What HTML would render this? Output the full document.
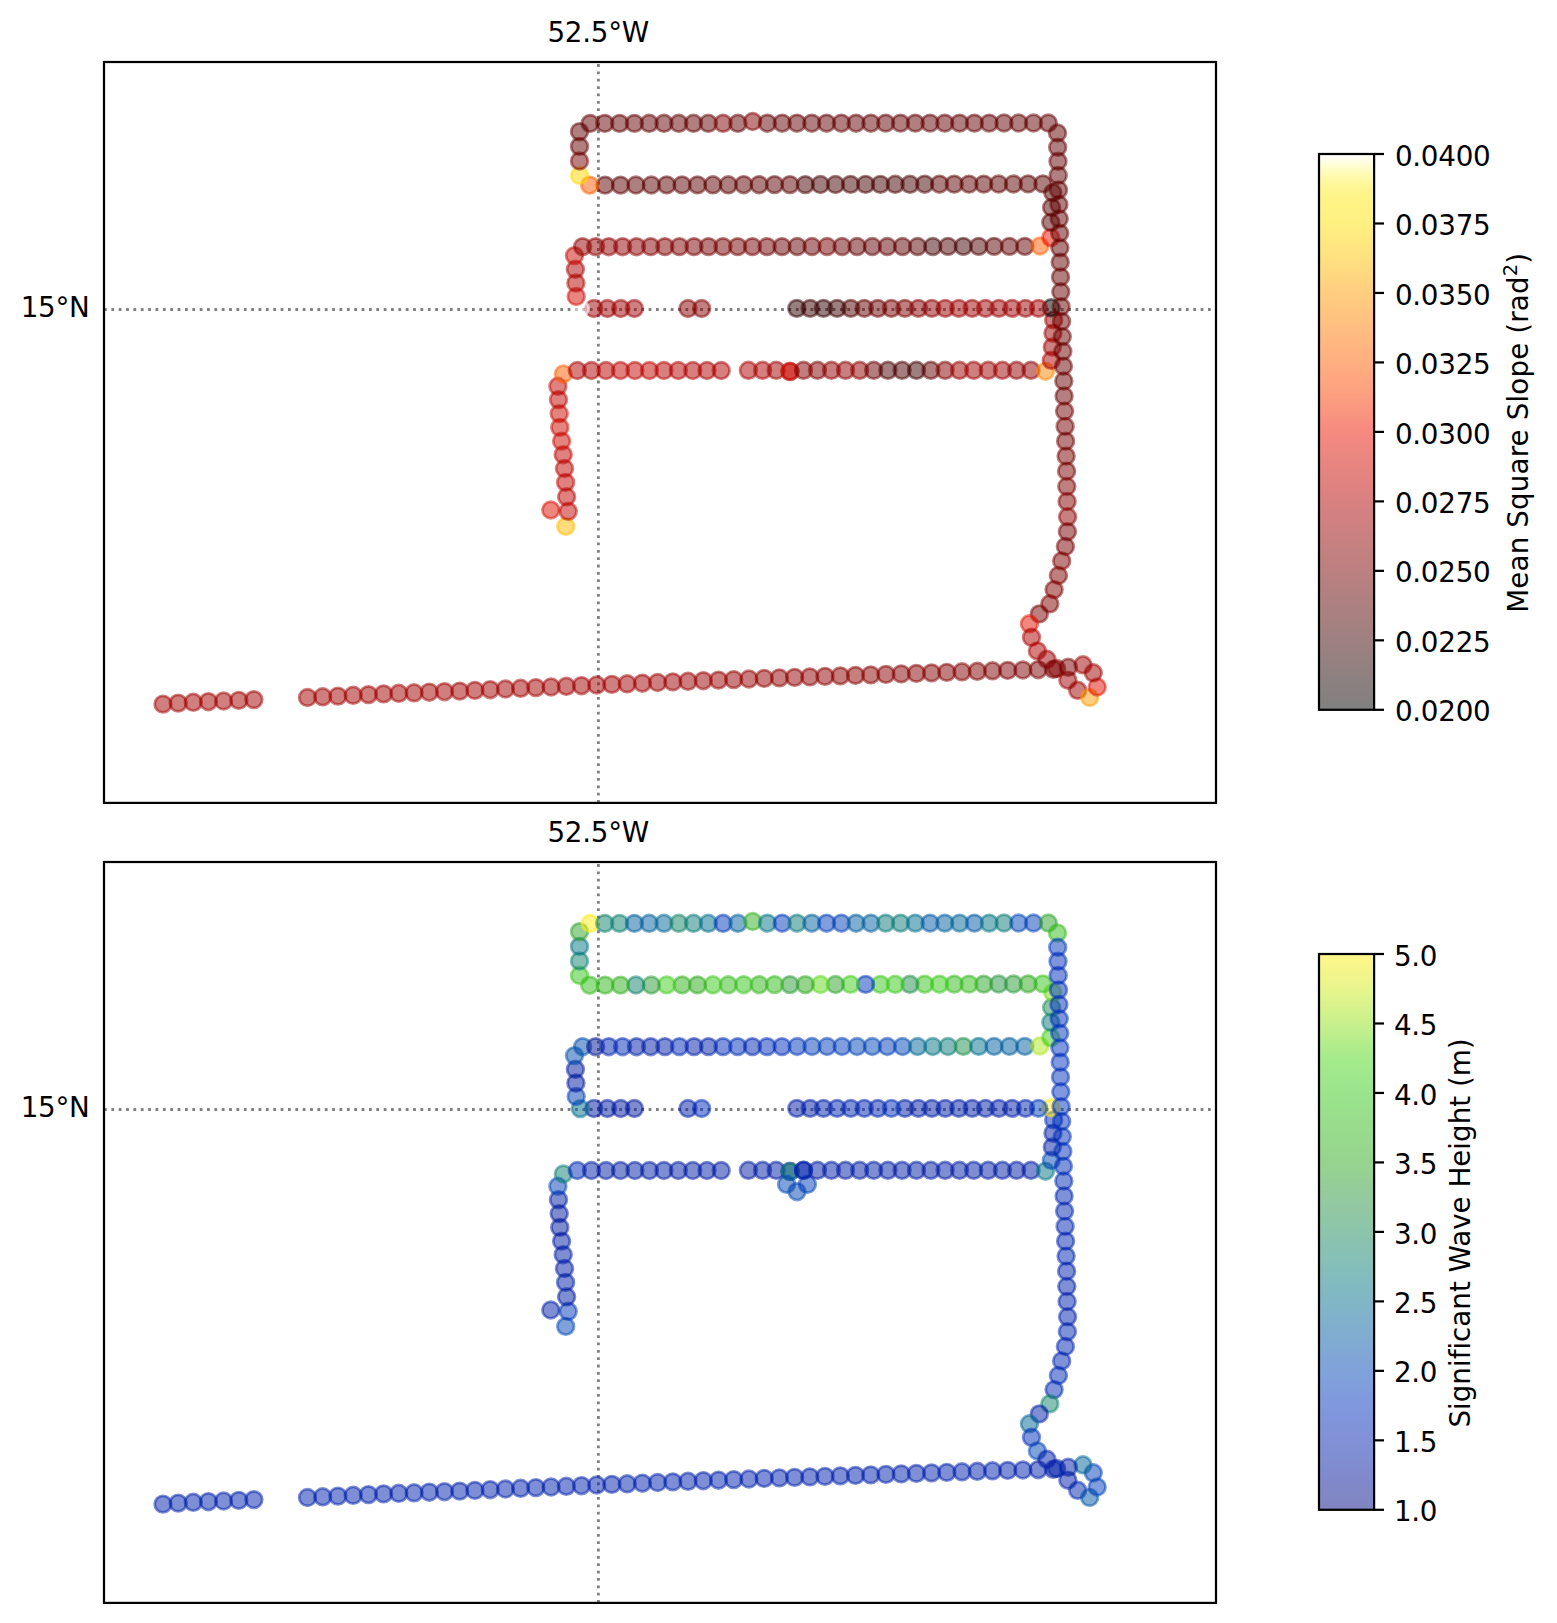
<!DOCTYPE html><html><head><meta charset="utf-8"><title>Mean Square Slope and Significant Wave Height</title>
<style>html,body{margin:0;padding:0;background:#fff}svg{display:block}text{font-family:"DejaVu Sans","Liberation Sans",sans-serif;font-size:27.78px;fill:#000;letter-spacing:-0.27px}</style></head><body>
<svg width="1557" height="1623" viewBox="0 0 1557 1623">
<defs>
<circle id="m" r="8.33" fill-opacity=".5" stroke-width="2.78" stroke-opacity=".5"/>
<linearGradient id="gf" x1="0" y1="1" x2="0" y2="0"><stop offset="0.0000" stop-color="#808080"/><stop offset="0.0156" stop-color="#848080"/><stop offset="0.0312" stop-color="#888080"/><stop offset="0.0469" stop-color="#8b8080"/><stop offset="0.0625" stop-color="#8f8080"/><stop offset="0.0781" stop-color="#938080"/><stop offset="0.0938" stop-color="#968080"/><stop offset="0.1094" stop-color="#9a8080"/><stop offset="0.1250" stop-color="#9e8080"/><stop offset="0.1406" stop-color="#a28080"/><stop offset="0.1562" stop-color="#a68080"/><stop offset="0.1719" stop-color="#aa8080"/><stop offset="0.1875" stop-color="#ad8080"/><stop offset="0.2031" stop-color="#b08080"/><stop offset="0.2188" stop-color="#b48080"/><stop offset="0.2344" stop-color="#b88080"/><stop offset="0.2500" stop-color="#bc8080"/><stop offset="0.2656" stop-color="#bf8080"/><stop offset="0.2812" stop-color="#c28080"/><stop offset="0.2969" stop-color="#c68080"/><stop offset="0.3125" stop-color="#ca8080"/><stop offset="0.3281" stop-color="#ce8080"/><stop offset="0.3438" stop-color="#d28080"/><stop offset="0.3594" stop-color="#d58080"/><stop offset="0.3750" stop-color="#d88080"/><stop offset="0.3906" stop-color="#dc8080"/><stop offset="0.4062" stop-color="#e08280"/><stop offset="0.4219" stop-color="#e38480"/><stop offset="0.4375" stop-color="#e68480"/><stop offset="0.4531" stop-color="#ea8680"/><stop offset="0.4688" stop-color="#ee8780"/><stop offset="0.4844" stop-color="#f28880"/><stop offset="0.5000" stop-color="#f58a80"/><stop offset="0.5156" stop-color="#f78e80"/><stop offset="0.5312" stop-color="#f89480"/><stop offset="0.5469" stop-color="#fa9880"/><stop offset="0.5625" stop-color="#fc9e80"/><stop offset="0.5781" stop-color="#fda280"/><stop offset="0.5938" stop-color="#fea680"/><stop offset="0.6094" stop-color="#feaa80"/><stop offset="0.6250" stop-color="#ffaf80"/><stop offset="0.6406" stop-color="#ffb280"/><stop offset="0.6562" stop-color="#ffb680"/><stop offset="0.6719" stop-color="#ffba80"/><stop offset="0.6875" stop-color="#ffbe80"/><stop offset="0.7031" stop-color="#ffc280"/><stop offset="0.7188" stop-color="#ffc680"/><stop offset="0.7344" stop-color="#ffca80"/><stop offset="0.7500" stop-color="#ffcd80"/><stop offset="0.7656" stop-color="#ffd280"/><stop offset="0.7812" stop-color="#ffd780"/><stop offset="0.7969" stop-color="#ffdc80"/><stop offset="0.8125" stop-color="#ffe180"/><stop offset="0.8281" stop-color="#ffe480"/><stop offset="0.8438" stop-color="#ffe880"/><stop offset="0.8594" stop-color="#ffec82"/><stop offset="0.8750" stop-color="#fff082"/><stop offset="0.8906" stop-color="#fff284"/><stop offset="0.9062" stop-color="#fff386"/><stop offset="0.9219" stop-color="#fff488"/><stop offset="0.9375" stop-color="#fff692"/><stop offset="0.9531" stop-color="#fff9a4"/><stop offset="0.9688" stop-color="#fffbbe"/><stop offset="0.9844" stop-color="#fffddf"/><stop offset="1.0000" stop-color="#ffffff"/></linearGradient>
<linearGradient id="gb" x1="0" y1="1" x2="0" y2="0"><stop offset="0.0000" stop-color="#8085c0"/><stop offset="0.0156" stop-color="#8086c4"/><stop offset="0.0312" stop-color="#8088c6"/><stop offset="0.0469" stop-color="#8088ca"/><stop offset="0.0625" stop-color="#808acd"/><stop offset="0.0781" stop-color="#808cd0"/><stop offset="0.0938" stop-color="#808ed2"/><stop offset="0.1094" stop-color="#8090d4"/><stop offset="0.1250" stop-color="#8091d7"/><stop offset="0.1406" stop-color="#8092d8"/><stop offset="0.1562" stop-color="#8094da"/><stop offset="0.1719" stop-color="#8096dc"/><stop offset="0.1875" stop-color="#8098de"/><stop offset="0.2031" stop-color="#809add"/><stop offset="0.2188" stop-color="#809ddc"/><stop offset="0.2344" stop-color="#80a0db"/><stop offset="0.2500" stop-color="#80a2da"/><stop offset="0.2656" stop-color="#80a4d8"/><stop offset="0.2812" stop-color="#80a7d5"/><stop offset="0.2969" stop-color="#80aad2"/><stop offset="0.3125" stop-color="#80acd0"/><stop offset="0.3281" stop-color="#80aece"/><stop offset="0.3438" stop-color="#80b1cb"/><stop offset="0.3594" stop-color="#80b4c8"/><stop offset="0.3750" stop-color="#80b6c6"/><stop offset="0.3906" stop-color="#80b8c2"/><stop offset="0.4062" stop-color="#82bac0"/><stop offset="0.4219" stop-color="#83bcbc"/><stop offset="0.4375" stop-color="#84beb9"/><stop offset="0.4531" stop-color="#86c0b6"/><stop offset="0.4688" stop-color="#88c1b2"/><stop offset="0.4844" stop-color="#8ac2b0"/><stop offset="0.5000" stop-color="#8cc4ac"/><stop offset="0.5156" stop-color="#8ec6a8"/><stop offset="0.5312" stop-color="#90c7a4"/><stop offset="0.5469" stop-color="#92c8a1"/><stop offset="0.5625" stop-color="#94ca9e"/><stop offset="0.5781" stop-color="#94cc9a"/><stop offset="0.5938" stop-color="#95cf96"/><stop offset="0.6094" stop-color="#96d292"/><stop offset="0.6250" stop-color="#96d48e"/><stop offset="0.6406" stop-color="#96d68e"/><stop offset="0.6562" stop-color="#97d88d"/><stop offset="0.6719" stop-color="#98da8c"/><stop offset="0.6875" stop-color="#98dc8c"/><stop offset="0.7031" stop-color="#98de8c"/><stop offset="0.7188" stop-color="#9ae08c"/><stop offset="0.7344" stop-color="#9ae28c"/><stop offset="0.7500" stop-color="#9be48c"/><stop offset="0.7656" stop-color="#9ee68c"/><stop offset="0.7812" stop-color="#a0e88c"/><stop offset="0.7969" stop-color="#a2ea8c"/><stop offset="0.8125" stop-color="#a5eb8c"/><stop offset="0.8281" stop-color="#aeec8c"/><stop offset="0.8438" stop-color="#b6ee8c"/><stop offset="0.8594" stop-color="#c0ee8c"/><stop offset="0.8750" stop-color="#c8f08c"/><stop offset="0.8906" stop-color="#d0f28c"/><stop offset="0.9062" stop-color="#d8f28c"/><stop offset="0.9219" stop-color="#e0f48c"/><stop offset="0.9375" stop-color="#e8f58c"/><stop offset="0.9531" stop-color="#eef58c"/><stop offset="0.9688" stop-color="#f4f58b"/><stop offset="0.9844" stop-color="#faf58a"/><stop offset="1.0000" stop-color="#fff58a"/></linearGradient>
</defs>
<rect width="1557" height="1623" fill="#fff"/>
<g stroke="#808080" stroke-width="2.78" stroke-dasharray="2.78 4.58" fill="none"><path d="M104 309.5H1216" stroke-dashoffset="0"/><path d="M598.4 802.9V62"/></g><g><use href="#m" x="565.7" y="526.4" fill="#ffbb00" stroke="#ffbb00"/><use href="#m" x="550.8" y="510.0" fill="#d90e00" stroke="#d90e00"/><use href="#m" x="568.2" y="511.3" fill="#bd0400" stroke="#bd0400"/><use href="#m" x="566.6" y="496.8" fill="#bd0400" stroke="#bd0400"/><use href="#m" x="565.6" y="482.4" fill="#bd0400" stroke="#bd0400"/><use href="#m" x="564.5" y="468.5" fill="#bd0400" stroke="#bd0400"/><use href="#m" x="563.2" y="454.7" fill="#bd0400" stroke="#bd0400"/><use href="#m" x="561.6" y="441.1" fill="#cb0900" stroke="#cb0900"/><use href="#m" x="559.8" y="427.4" fill="#cb0900" stroke="#cb0900"/><use href="#m" x="559.2" y="413.6" fill="#cb0900" stroke="#cb0900"/><use href="#m" x="558.5" y="399.7" fill="#bd0400" stroke="#bd0400"/><use href="#m" x="557.9" y="386.3" fill="#bd0400" stroke="#bd0400"/><use href="#m" x="563.3" y="374.0" fill="#ff5c00" stroke="#ff5c00"/><use href="#m" x="577.3" y="370.5" fill="#ab0000" stroke="#ab0000"/><use href="#m" x="591.5" y="370.5" fill="#ab0000" stroke="#ab0000"/><use href="#m" x="606.0" y="370.5" fill="#b40100" stroke="#b40100"/><use href="#m" x="620.5" y="370.5" fill="#bd0400" stroke="#bd0400"/><use href="#m" x="634.9" y="370.5" fill="#bd0400" stroke="#bd0400"/><use href="#m" x="649.4" y="370.5" fill="#bd0400" stroke="#bd0400"/><use href="#m" x="663.9" y="370.5" fill="#b40100" stroke="#b40100"/><use href="#m" x="678.3" y="370.5" fill="#b40100" stroke="#b40100"/><use href="#m" x="692.8" y="370.5" fill="#b00000" stroke="#b00000"/><use href="#m" x="707.0" y="370.5" fill="#ab0000" stroke="#ab0000"/><use href="#m" x="721.2" y="370.5" fill="#ab0000" stroke="#ab0000"/><use href="#m" x="748.4" y="370.3" fill="#ab0000" stroke="#ab0000"/><use href="#m" x="762.6" y="370.3" fill="#ab0000" stroke="#ab0000"/><use href="#m" x="776.2" y="370.3" fill="#9d0000" stroke="#9d0000"/><use href="#m" x="790.0" y="371.3" fill="#c70700" stroke="#c70700"/><use href="#m" x="790.0" y="371.6" fill="#c70700" stroke="#c70700"/><use href="#m" x="803.5" y="370.3" fill="#810000" stroke="#810000"/><use href="#m" x="817.5" y="370.3" fill="#810000" stroke="#810000"/><use href="#m" x="831.5" y="370.3" fill="#8f0000" stroke="#8f0000"/><use href="#m" x="845.5" y="370.3" fill="#8f0000" stroke="#8f0000"/><use href="#m" x="859.7" y="370.3" fill="#8f0000" stroke="#8f0000"/><use href="#m" x="873.7" y="370.3" fill="#6a0000" stroke="#6a0000"/><use href="#m" x="887.9" y="370.3" fill="#4a0000" stroke="#4a0000"/><use href="#m" x="902.1" y="370.3" fill="#4a0000" stroke="#4a0000"/><use href="#m" x="916.5" y="370.3" fill="#3c0000" stroke="#3c0000"/><use href="#m" x="930.9" y="370.3" fill="#610000" stroke="#610000"/><use href="#m" x="945.1" y="370.3" fill="#810000" stroke="#810000"/><use href="#m" x="959.5" y="370.3" fill="#9d0000" stroke="#9d0000"/><use href="#m" x="973.7" y="370.3" fill="#9d0000" stroke="#9d0000"/><use href="#m" x="988.2" y="370.3" fill="#9d0000" stroke="#9d0000"/><use href="#m" x="1002.4" y="370.3" fill="#9d0000" stroke="#9d0000"/><use href="#m" x="1016.6" y="370.3" fill="#8f0000" stroke="#8f0000"/><use href="#m" x="1031.0" y="370.3" fill="#8f0000" stroke="#8f0000"/><use href="#m" x="1045.4" y="371.2" fill="#ff8300" stroke="#ff8300"/><use href="#m" x="1051.3" y="360.3" fill="#ab0000" stroke="#ab0000"/><use href="#m" x="1052.3" y="347.0" fill="#a20000" stroke="#a20000"/><use href="#m" x="1053.0" y="333.2" fill="#9d0000" stroke="#9d0000"/><use href="#m" x="1053.7" y="319.9" fill="#9d0000" stroke="#9d0000"/><use href="#m" x="1051.2" y="307.8" fill="#000000" stroke="#000000"/><use href="#m" x="1038.5" y="308.4" fill="#a60000" stroke="#a60000"/><use href="#m" x="1025.5" y="308.4" fill="#9d0000" stroke="#9d0000"/><use href="#m" x="1012.1" y="308.4" fill="#9d0000" stroke="#9d0000"/><use href="#m" x="998.9" y="308.4" fill="#9d0000" stroke="#9d0000"/><use href="#m" x="985.5" y="308.4" fill="#9d0000" stroke="#9d0000"/><use href="#m" x="972.2" y="308.4" fill="#9d0000" stroke="#9d0000"/><use href="#m" x="958.8" y="308.4" fill="#9d0000" stroke="#9d0000"/><use href="#m" x="945.3" y="308.4" fill="#980000" stroke="#980000"/><use href="#m" x="931.9" y="308.4" fill="#8f0000" stroke="#8f0000"/><use href="#m" x="918.4" y="308.4" fill="#860000" stroke="#860000"/><use href="#m" x="904.9" y="308.4" fill="#810000" stroke="#810000"/><use href="#m" x="891.4" y="308.4" fill="#780000" stroke="#780000"/><use href="#m" x="877.8" y="308.4" fill="#6a0000" stroke="#6a0000"/><use href="#m" x="864.3" y="308.4" fill="#610000" stroke="#610000"/><use href="#m" x="850.8" y="308.4" fill="#530000" stroke="#530000"/><use href="#m" x="837.1" y="308.4" fill="#3c0000" stroke="#3c0000"/><use href="#m" x="823.5" y="308.4" fill="#320000" stroke="#320000"/><use href="#m" x="810.2" y="308.4" fill="#3c0000" stroke="#3c0000"/><use href="#m" x="796.8" y="308.4" fill="#320000" stroke="#320000"/><use href="#m" x="701.7" y="308.5" fill="#860000" stroke="#860000"/><use href="#m" x="688.0" y="308.5" fill="#860000" stroke="#860000"/><use href="#m" x="634.4" y="308.5" fill="#9d0000" stroke="#9d0000"/><use href="#m" x="620.8" y="308.5" fill="#9d0000" stroke="#9d0000"/><use href="#m" x="607.4" y="308.5" fill="#9d0000" stroke="#9d0000"/><use href="#m" x="593.8" y="308.5" fill="#9d0000" stroke="#9d0000"/><use href="#m" x="580.3" y="308.6" fill="#ffffff" stroke="#ffffff"/><use href="#m" x="576.2" y="296.5" fill="#d40c00" stroke="#d40c00"/><use href="#m" x="575.9" y="283.0" fill="#b40100" stroke="#b40100"/><use href="#m" x="575.4" y="269.3" fill="#ab0000" stroke="#ab0000"/><use href="#m" x="574.5" y="255.6" fill="#c70700" stroke="#c70700"/><use href="#m" x="582.6" y="246.7" fill="#8f0000" stroke="#8f0000"/><use href="#m" x="595.6" y="246.7" fill="#8f0000" stroke="#8f0000"/><use href="#m" x="608.8" y="246.7" fill="#8f0000" stroke="#8f0000"/><use href="#m" x="622.6" y="246.7" fill="#8f0000" stroke="#8f0000"/><use href="#m" x="636.5" y="246.7" fill="#8b0000" stroke="#8b0000"/><use href="#m" x="650.7" y="246.6" fill="#860000" stroke="#860000"/><use href="#m" x="664.9" y="246.6" fill="#810000" stroke="#810000"/><use href="#m" x="679.4" y="246.6" fill="#7d0000" stroke="#7d0000"/><use href="#m" x="694.0" y="246.6" fill="#780000" stroke="#780000"/><use href="#m" x="708.5" y="246.6" fill="#730000" stroke="#730000"/><use href="#m" x="723.0" y="246.6" fill="#730000" stroke="#730000"/><use href="#m" x="737.7" y="246.6" fill="#730000" stroke="#730000"/><use href="#m" x="752.4" y="246.6" fill="#730000" stroke="#730000"/><use href="#m" x="767.1" y="246.6" fill="#6f0000" stroke="#6f0000"/><use href="#m" x="782.0" y="246.6" fill="#6a0000" stroke="#6a0000"/><use href="#m" x="797.2" y="246.5" fill="#610000" stroke="#610000"/><use href="#m" x="812.0" y="246.5" fill="#6a0000" stroke="#6a0000"/><use href="#m" x="827.1" y="246.5" fill="#730000" stroke="#730000"/><use href="#m" x="842.1" y="246.5" fill="#6a0000" stroke="#6a0000"/><use href="#m" x="857.1" y="246.5" fill="#610000" stroke="#610000"/><use href="#m" x="872.3" y="246.5" fill="#610000" stroke="#610000"/><use href="#m" x="887.3" y="246.5" fill="#610000" stroke="#610000"/><use href="#m" x="902.5" y="246.5" fill="#5c0000" stroke="#5c0000"/><use href="#m" x="917.6" y="246.5" fill="#530000" stroke="#530000"/><use href="#m" x="932.8" y="246.5" fill="#400000" stroke="#400000"/><use href="#m" x="948.0" y="246.4" fill="#4e0000" stroke="#4e0000"/><use href="#m" x="963.3" y="246.4" fill="#400000" stroke="#400000"/><use href="#m" x="978.7" y="246.4" fill="#4e0000" stroke="#4e0000"/><use href="#m" x="994.1" y="246.4" fill="#580000" stroke="#580000"/><use href="#m" x="1009.4" y="246.4" fill="#610000" stroke="#610000"/><use href="#m" x="1024.8" y="246.4" fill="#610000" stroke="#610000"/><use href="#m" x="1039.9" y="246.0" fill="#ff5c00" stroke="#ff5c00"/><use href="#m" x="1050.8" y="237.6" fill="#eb1400" stroke="#eb1400"/><use href="#m" x="1050.8" y="222.3" fill="#580000" stroke="#580000"/><use href="#m" x="1051.6" y="207.5" fill="#580000" stroke="#580000"/><use href="#m" x="1052.8" y="192.7" fill="#580000" stroke="#580000"/><use href="#m" x="1042.9" y="183.9" fill="#5c0000" stroke="#5c0000"/><use href="#m" x="1028.1" y="183.9" fill="#5c0000" stroke="#5c0000"/><use href="#m" x="1013.4" y="184.0" fill="#5c0000" stroke="#5c0000"/><use href="#m" x="998.6" y="184.0" fill="#5c0000" stroke="#5c0000"/><use href="#m" x="983.8" y="184.1" fill="#5c0000" stroke="#5c0000"/><use href="#m" x="969.0" y="184.1" fill="#5c0000" stroke="#5c0000"/><use href="#m" x="954.2" y="184.1" fill="#5c0000" stroke="#5c0000"/><use href="#m" x="939.5" y="184.2" fill="#5c0000" stroke="#5c0000"/><use href="#m" x="924.7" y="184.2" fill="#450000" stroke="#450000"/><use href="#m" x="909.9" y="184.3" fill="#450000" stroke="#450000"/><use href="#m" x="895.2" y="184.3" fill="#450000" stroke="#450000"/><use href="#m" x="880.4" y="184.4" fill="#450000" stroke="#450000"/><use href="#m" x="865.6" y="184.4" fill="#450000" stroke="#450000"/><use href="#m" x="850.5" y="184.4" fill="#450000" stroke="#450000"/><use href="#m" x="835.5" y="184.5" fill="#450000" stroke="#450000"/><use href="#m" x="820.4" y="184.5" fill="#450000" stroke="#450000"/><use href="#m" x="805.3" y="184.6" fill="#450000" stroke="#450000"/><use href="#m" x="789.9" y="184.6" fill="#5c0000" stroke="#5c0000"/><use href="#m" x="774.5" y="184.6" fill="#5c0000" stroke="#5c0000"/><use href="#m" x="759.1" y="184.7" fill="#5c0000" stroke="#5c0000"/><use href="#m" x="743.7" y="184.7" fill="#5c0000" stroke="#5c0000"/><use href="#m" x="728.3" y="184.8" fill="#5c0000" stroke="#5c0000"/><use href="#m" x="712.9" y="184.8" fill="#5c0000" stroke="#5c0000"/><use href="#m" x="697.5" y="184.9" fill="#5c0000" stroke="#5c0000"/><use href="#m" x="682.1" y="184.9" fill="#5c0000" stroke="#5c0000"/><use href="#m" x="666.7" y="184.9" fill="#5c0000" stroke="#5c0000"/><use href="#m" x="651.3" y="185.0" fill="#5c0000" stroke="#5c0000"/><use href="#m" x="635.9" y="185.0" fill="#5c0000" stroke="#5c0000"/><use href="#m" x="620.5" y="185.1" fill="#5c0000" stroke="#5c0000"/><use href="#m" x="605.1" y="185.1" fill="#5c0000" stroke="#5c0000"/><use href="#m" x="589.7" y="185.2" fill="#ff5c00" stroke="#ff5c00"/><use href="#m" x="579.5" y="175.5" fill="#ffda04" stroke="#ffda04"/><use href="#m" x="579.5" y="161.0" fill="#780000" stroke="#780000"/><use href="#m" x="579.5" y="146.4" fill="#650000" stroke="#650000"/><use href="#m" x="579.5" y="131.7" fill="#610000" stroke="#610000"/><use href="#m" x="590.1" y="123.4" fill="#610000" stroke="#610000"/><use href="#m" x="604.8" y="123.4" fill="#610000" stroke="#610000"/><use href="#m" x="619.6" y="123.4" fill="#610000" stroke="#610000"/><use href="#m" x="634.4" y="123.4" fill="#610000" stroke="#610000"/><use href="#m" x="649.2" y="123.3" fill="#610000" stroke="#610000"/><use href="#m" x="664.0" y="123.3" fill="#610000" stroke="#610000"/><use href="#m" x="678.8" y="123.3" fill="#610000" stroke="#610000"/><use href="#m" x="693.5" y="123.3" fill="#610000" stroke="#610000"/><use href="#m" x="708.3" y="123.3" fill="#610000" stroke="#610000"/><use href="#m" x="723.1" y="123.3" fill="#7d0000" stroke="#7d0000"/><use href="#m" x="737.9" y="123.3" fill="#610000" stroke="#610000"/><use href="#m" x="752.7" y="121.5" fill="#810000" stroke="#810000"/><use href="#m" x="767.4" y="123.2" fill="#610000" stroke="#610000"/><use href="#m" x="782.2" y="123.2" fill="#610000" stroke="#610000"/><use href="#m" x="797.0" y="123.2" fill="#610000" stroke="#610000"/><use href="#m" x="811.8" y="123.2" fill="#610000" stroke="#610000"/><use href="#m" x="826.6" y="123.2" fill="#610000" stroke="#610000"/><use href="#m" x="841.4" y="123.2" fill="#610000" stroke="#610000"/><use href="#m" x="856.1" y="123.2" fill="#610000" stroke="#610000"/><use href="#m" x="870.9" y="123.2" fill="#610000" stroke="#610000"/><use href="#m" x="885.7" y="123.1" fill="#610000" stroke="#610000"/><use href="#m" x="900.5" y="123.1" fill="#610000" stroke="#610000"/><use href="#m" x="915.3" y="123.1" fill="#610000" stroke="#610000"/><use href="#m" x="930.0" y="123.1" fill="#610000" stroke="#610000"/><use href="#m" x="944.8" y="123.1" fill="#610000" stroke="#610000"/><use href="#m" x="959.6" y="123.1" fill="#610000" stroke="#610000"/><use href="#m" x="974.4" y="123.1" fill="#610000" stroke="#610000"/><use href="#m" x="989.2" y="123.1" fill="#610000" stroke="#610000"/><use href="#m" x="1004.0" y="123.0" fill="#610000" stroke="#610000"/><use href="#m" x="1018.7" y="123.0" fill="#610000" stroke="#610000"/><use href="#m" x="1033.5" y="123.0" fill="#610000" stroke="#610000"/><use href="#m" x="1048.3" y="123.0" fill="#610000" stroke="#610000"/><use href="#m" x="1057.5" y="133.0" fill="#610000" stroke="#610000"/><use href="#m" x="1057.7" y="147.3" fill="#610000" stroke="#610000"/><use href="#m" x="1058.0" y="161.3" fill="#610000" stroke="#610000"/><use href="#m" x="1058.2" y="175.4" fill="#610000" stroke="#610000"/><use href="#m" x="1058.5" y="189.9" fill="#610000" stroke="#610000"/><use href="#m" x="1058.9" y="204.5" fill="#610000" stroke="#610000"/><use href="#m" x="1059.2" y="218.8" fill="#610000" stroke="#610000"/><use href="#m" x="1059.7" y="233.1" fill="#610000" stroke="#610000"/><use href="#m" x="1059.9" y="247.8" fill="#610000" stroke="#610000"/><use href="#m" x="1060.2" y="262.2" fill="#650000" stroke="#650000"/><use href="#m" x="1060.5" y="277.0" fill="#650000" stroke="#650000"/><use href="#m" x="1060.8" y="291.8" fill="#650000" stroke="#650000"/><use href="#m" x="1061.1" y="306.6" fill="#650000" stroke="#650000"/><use href="#m" x="1061.6" y="321.4" fill="#6a0000" stroke="#6a0000"/><use href="#m" x="1062.3" y="336.6" fill="#6a0000" stroke="#6a0000"/><use href="#m" x="1062.8" y="351.4" fill="#6a0000" stroke="#6a0000"/><use href="#m" x="1063.4" y="366.2" fill="#6a0000" stroke="#6a0000"/><use href="#m" x="1063.8" y="381.0" fill="#6a0000" stroke="#6a0000"/><use href="#m" x="1064.1" y="396.0" fill="#6a0000" stroke="#6a0000"/><use href="#m" x="1064.6" y="411.1" fill="#6f0000" stroke="#6f0000"/><use href="#m" x="1065.1" y="426.4" fill="#730000" stroke="#730000"/><use href="#m" x="1065.6" y="441.1" fill="#730000" stroke="#730000"/><use href="#m" x="1066.1" y="456.1" fill="#780000" stroke="#780000"/><use href="#m" x="1066.6" y="471.2" fill="#780000" stroke="#780000"/><use href="#m" x="1066.8" y="486.5" fill="#7d0000" stroke="#7d0000"/><use href="#m" x="1067.1" y="501.5" fill="#810000" stroke="#810000"/><use href="#m" x="1067.6" y="516.8" fill="#8f0000" stroke="#8f0000"/><use href="#m" x="1067.4" y="531.7" fill="#730000" stroke="#730000"/><use href="#m" x="1065.4" y="546.5" fill="#780000" stroke="#780000"/><use href="#m" x="1061.7" y="560.9" fill="#7d0000" stroke="#7d0000"/><use href="#m" x="1058.4" y="575.5" fill="#810000" stroke="#810000"/><use href="#m" x="1054.1" y="589.6" fill="#810000" stroke="#810000"/><use href="#m" x="1049.8" y="603.8" fill="#810000" stroke="#810000"/><use href="#m" x="1039.3" y="613.9" fill="#780000" stroke="#780000"/><use href="#m" x="1029.4" y="623.8" fill="#e21100" stroke="#e21100"/><use href="#m" x="1031.5" y="637.3" fill="#ab0000" stroke="#ab0000"/><use href="#m" x="1037.4" y="650.9" fill="#b00000" stroke="#b00000"/><use href="#m" x="1046.9" y="659.3" fill="#9d0000" stroke="#9d0000"/><use href="#m" x="1056.6" y="668.5" fill="#8f0000" stroke="#8f0000"/><use href="#m" x="1067.9" y="680.2" fill="#9d0000" stroke="#9d0000"/><use href="#m" x="1077.7" y="690.3" fill="#9d0000" stroke="#9d0000"/><use href="#m" x="1089.6" y="697.5" fill="#ff9b00" stroke="#ff9b00"/><use href="#m" x="1097.2" y="687.0" fill="#dd0f00" stroke="#dd0f00"/><use href="#m" x="1093.3" y="672.8" fill="#9d0000" stroke="#9d0000"/><use href="#m" x="1083.0" y="664.8" fill="#9d0000" stroke="#9d0000"/><use href="#m" x="1068.3" y="667.3" fill="#780000" stroke="#780000"/><use href="#m" x="1053.4" y="669.3" fill="#780000" stroke="#780000"/><use href="#m" x="1038.2" y="669.7" fill="#790000" stroke="#790000"/><use href="#m" x="1022.9" y="670.0" fill="#7b0000" stroke="#7b0000"/><use href="#m" x="1007.7" y="670.4" fill="#7c0000" stroke="#7c0000"/><use href="#m" x="992.5" y="670.8" fill="#7e0000" stroke="#7e0000"/><use href="#m" x="977.3" y="671.3" fill="#7f0000" stroke="#7f0000"/><use href="#m" x="962.0" y="671.8" fill="#810000" stroke="#810000"/><use href="#m" x="946.8" y="672.4" fill="#820000" stroke="#820000"/><use href="#m" x="931.6" y="672.9" fill="#840000" stroke="#840000"/><use href="#m" x="916.4" y="673.4" fill="#850000" stroke="#850000"/><use href="#m" x="901.2" y="673.9" fill="#860000" stroke="#860000"/><use href="#m" x="885.9" y="674.4" fill="#880000" stroke="#880000"/><use href="#m" x="870.7" y="674.9" fill="#890000" stroke="#890000"/><use href="#m" x="855.5" y="675.4" fill="#8b0000" stroke="#8b0000"/><use href="#m" x="840.3" y="675.9" fill="#8c0000" stroke="#8c0000"/><use href="#m" x="825.0" y="676.4" fill="#8e0000" stroke="#8e0000"/><use href="#m" x="809.8" y="676.9" fill="#8f0000" stroke="#8f0000"/><use href="#m" x="794.6" y="677.4" fill="#900000" stroke="#900000"/><use href="#m" x="779.4" y="677.9" fill="#920000" stroke="#920000"/><use href="#m" x="764.2" y="678.4" fill="#930000" stroke="#930000"/><use href="#m" x="748.9" y="679.0" fill="#950000" stroke="#950000"/><use href="#m" x="733.7" y="679.6" fill="#960000" stroke="#960000"/><use href="#m" x="718.5" y="680.1" fill="#980000" stroke="#980000"/><use href="#m" x="703.3" y="680.7" fill="#990000" stroke="#990000"/><use href="#m" x="688.0" y="681.3" fill="#9b0000" stroke="#9b0000"/><use href="#m" x="672.8" y="681.9" fill="#9c0000" stroke="#9c0000"/><use href="#m" x="657.6" y="682.5" fill="#9d0000" stroke="#9d0000"/><use href="#m" x="642.4" y="683.2" fill="#9f0000" stroke="#9f0000"/><use href="#m" x="627.2" y="683.8" fill="#a00000" stroke="#a00000"/><use href="#m" x="611.9" y="684.4" fill="#a20000" stroke="#a20000"/><use href="#m" x="596.7" y="685.0" fill="#a20000" stroke="#a20000"/><use href="#m" x="581.5" y="685.7" fill="#a20000" stroke="#a20000"/><use href="#m" x="566.3" y="686.3" fill="#a20000" stroke="#a20000"/><use href="#m" x="551.1" y="687.0" fill="#a20000" stroke="#a20000"/><use href="#m" x="535.8" y="687.6" fill="#a20000" stroke="#a20000"/><use href="#m" x="520.6" y="688.3" fill="#a20000" stroke="#a20000"/><use href="#m" x="505.4" y="689.0" fill="#a20000" stroke="#a20000"/><use href="#m" x="490.2" y="689.7" fill="#a20000" stroke="#a20000"/><use href="#m" x="474.9" y="690.4" fill="#a20000" stroke="#a20000"/><use href="#m" x="459.7" y="691.1" fill="#a20000" stroke="#a20000"/><use href="#m" x="444.5" y="691.7" fill="#a20000" stroke="#a20000"/><use href="#m" x="429.3" y="692.2" fill="#a20000" stroke="#a20000"/><use href="#m" x="414.1" y="692.8" fill="#a20000" stroke="#a20000"/><use href="#m" x="398.8" y="693.3" fill="#a20000" stroke="#a20000"/><use href="#m" x="383.6" y="693.9" fill="#a20000" stroke="#a20000"/><use href="#m" x="368.4" y="694.6" fill="#a20000" stroke="#a20000"/><use href="#m" x="353.2" y="695.3" fill="#a20000" stroke="#a20000"/><use href="#m" x="337.9" y="696.1" fill="#a20000" stroke="#a20000"/><use href="#m" x="322.7" y="696.8" fill="#a20000" stroke="#a20000"/><use href="#m" x="307.5" y="697.5" fill="#a20000" stroke="#a20000"/><use href="#m" x="253.9" y="699.6" fill="#a20000" stroke="#a20000"/><use href="#m" x="238.8" y="700.4" fill="#a20000" stroke="#a20000"/><use href="#m" x="223.6" y="701.0" fill="#a20000" stroke="#a20000"/><use href="#m" x="208.4" y="701.7" fill="#a20000" stroke="#a20000"/><use href="#m" x="193.3" y="702.3" fill="#a20000" stroke="#a20000"/><use href="#m" x="178.2" y="703.1" fill="#a20000" stroke="#a20000"/><use href="#m" x="163.0" y="704.1" fill="#a20000" stroke="#a20000"/></g><rect x="104" y="62" width="1112" height="740.9" fill="none" stroke="#000" stroke-width="2.22" stroke-linejoin="miter"/><text x="598.2" y="41.9" text-anchor="middle">52.5°W</text><text x="89.6" y="316.6" text-anchor="end">15°N</text>
<g stroke="#808080" stroke-width="2.78" stroke-dasharray="2.78 4.58" fill="none"><path d="M104 1109.5H1216" stroke-dashoffset="0"/><path d="M598.4 1602.9V862"/></g><g><use href="#m" x="565.7" y="1326.4" fill="#0045b5" stroke="#0045b5"/><use href="#m" x="550.8" y="1310.0" fill="#001da7" stroke="#001da7"/><use href="#m" x="568.2" y="1311.3" fill="#0035bb" stroke="#0035bb"/><use href="#m" x="566.6" y="1296.8" fill="#001ba3" stroke="#001ba3"/><use href="#m" x="565.6" y="1282.4" fill="#001da7" stroke="#001da7"/><use href="#m" x="564.5" y="1268.5" fill="#001da7" stroke="#001da7"/><use href="#m" x="563.2" y="1254.7" fill="#001da7" stroke="#001da7"/><use href="#m" x="561.6" y="1241.1" fill="#001ba3" stroke="#001ba3"/><use href="#m" x="559.8" y="1227.4" fill="#00189f" stroke="#00189f"/><use href="#m" x="559.2" y="1213.6" fill="#00189f" stroke="#00189f"/><use href="#m" x="558.5" y="1199.7" fill="#001ba3" stroke="#001ba3"/><use href="#m" x="557.9" y="1186.3" fill="#003db8" stroke="#003db8"/><use href="#m" x="563.3" y="1174.0" fill="#097d73" stroke="#097d73"/><use href="#m" x="577.3" y="1170.5" fill="#0029b5" stroke="#0029b5"/><use href="#m" x="591.5" y="1170.5" fill="#001ba3" stroke="#001ba3"/><use href="#m" x="606.0" y="1170.5" fill="#001ba3" stroke="#001ba3"/><use href="#m" x="620.5" y="1170.5" fill="#001ba3" stroke="#001ba3"/><use href="#m" x="634.9" y="1170.5" fill="#001ba3" stroke="#001ba3"/><use href="#m" x="649.4" y="1170.5" fill="#001ba3" stroke="#001ba3"/><use href="#m" x="663.9" y="1170.5" fill="#001ba3" stroke="#001ba3"/><use href="#m" x="678.3" y="1170.5" fill="#001ba3" stroke="#001ba3"/><use href="#m" x="692.8" y="1170.5" fill="#001ba3" stroke="#001ba3"/><use href="#m" x="707.0" y="1170.5" fill="#001ba3" stroke="#001ba3"/><use href="#m" x="721.2" y="1170.5" fill="#001ba3" stroke="#001ba3"/><use href="#m" x="748.4" y="1170.3" fill="#001ba3" stroke="#001ba3"/><use href="#m" x="762.6" y="1170.3" fill="#001ba3" stroke="#001ba3"/><use href="#m" x="776.2" y="1170.3" fill="#001ba3" stroke="#001ba3"/><use href="#m" x="790.0" y="1171.3" fill="#001ba3" stroke="#001ba3"/><use href="#m" x="790.0" y="1171.6" fill="#0c7f6e" stroke="#0c7f6e"/><use href="#m" x="786.6" y="1184.3" fill="#0045b5" stroke="#0045b5"/><use href="#m" x="797.0" y="1191.7" fill="#0045b5" stroke="#0045b5"/><use href="#m" x="807.4" y="1184.3" fill="#003db8" stroke="#003db8"/><use href="#m" x="803.6" y="1170.3" fill="#002eba" stroke="#002eba"/><use href="#m" x="803.5" y="1170.3" fill="#001ba3" stroke="#001ba3"/><use href="#m" x="817.5" y="1170.3" fill="#001ba3" stroke="#001ba3"/><use href="#m" x="831.5" y="1170.3" fill="#001ba3" stroke="#001ba3"/><use href="#m" x="845.5" y="1170.3" fill="#001ba3" stroke="#001ba3"/><use href="#m" x="859.7" y="1170.3" fill="#001ba3" stroke="#001ba3"/><use href="#m" x="873.7" y="1170.3" fill="#001ba3" stroke="#001ba3"/><use href="#m" x="887.9" y="1170.3" fill="#001ba3" stroke="#001ba3"/><use href="#m" x="902.1" y="1170.3" fill="#001ba3" stroke="#001ba3"/><use href="#m" x="916.5" y="1170.3" fill="#001ba3" stroke="#001ba3"/><use href="#m" x="930.9" y="1170.3" fill="#001ba3" stroke="#001ba3"/><use href="#m" x="945.1" y="1170.3" fill="#001ba3" stroke="#001ba3"/><use href="#m" x="959.5" y="1170.3" fill="#001ba3" stroke="#001ba3"/><use href="#m" x="973.7" y="1170.3" fill="#001ba3" stroke="#001ba3"/><use href="#m" x="988.2" y="1170.3" fill="#001ba3" stroke="#001ba3"/><use href="#m" x="1002.4" y="1170.3" fill="#001ba3" stroke="#001ba3"/><use href="#m" x="1016.6" y="1170.3" fill="#001ba3" stroke="#001ba3"/><use href="#m" x="1031.0" y="1170.3" fill="#001ba3" stroke="#001ba3"/><use href="#m" x="1045.4" y="1171.2" fill="#047383" stroke="#047383"/><use href="#m" x="1051.3" y="1160.3" fill="#0045b5" stroke="#0045b5"/><use href="#m" x="1052.3" y="1147.0" fill="#001da7" stroke="#001da7"/><use href="#m" x="1053.0" y="1133.2" fill="#001da7" stroke="#001da7"/><use href="#m" x="1053.7" y="1119.9" fill="#0029b5" stroke="#0029b5"/><use href="#m" x="1051.2" y="1107.8" fill="#ffeb15" stroke="#ffeb15"/><use href="#m" x="1038.5" y="1108.4" fill="#003db8" stroke="#003db8"/><use href="#m" x="1025.5" y="1108.4" fill="#0023af" stroke="#0023af"/><use href="#m" x="1012.1" y="1108.4" fill="#001da7" stroke="#001da7"/><use href="#m" x="998.9" y="1108.4" fill="#001da7" stroke="#001da7"/><use href="#m" x="985.5" y="1108.4" fill="#001da7" stroke="#001da7"/><use href="#m" x="972.2" y="1108.4" fill="#001da7" stroke="#001da7"/><use href="#m" x="958.8" y="1108.4" fill="#001da7" stroke="#001da7"/><use href="#m" x="945.3" y="1108.4" fill="#001da7" stroke="#001da7"/><use href="#m" x="931.9" y="1108.4" fill="#001da7" stroke="#001da7"/><use href="#m" x="918.4" y="1108.4" fill="#001da7" stroke="#001da7"/><use href="#m" x="904.9" y="1108.4" fill="#001da7" stroke="#001da7"/><use href="#m" x="891.4" y="1108.4" fill="#002eba" stroke="#002eba"/><use href="#m" x="877.8" y="1108.4" fill="#0023af" stroke="#0023af"/><use href="#m" x="864.3" y="1108.4" fill="#0023af" stroke="#0023af"/><use href="#m" x="850.8" y="1108.4" fill="#0023af" stroke="#0023af"/><use href="#m" x="837.1" y="1108.4" fill="#0023af" stroke="#0023af"/><use href="#m" x="823.5" y="1108.4" fill="#0020ab" stroke="#0020ab"/><use href="#m" x="810.2" y="1108.4" fill="#001da7" stroke="#001da7"/><use href="#m" x="796.8" y="1108.4" fill="#001da7" stroke="#001da7"/><use href="#m" x="701.7" y="1108.5" fill="#0029b5" stroke="#0029b5"/><use href="#m" x="688.0" y="1108.5" fill="#001da7" stroke="#001da7"/><use href="#m" x="634.4" y="1108.5" fill="#00189f" stroke="#00189f"/><use href="#m" x="620.8" y="1108.5" fill="#00189f" stroke="#00189f"/><use href="#m" x="607.4" y="1108.5" fill="#00189f" stroke="#00189f"/><use href="#m" x="593.8" y="1108.5" fill="#00189f" stroke="#00189f"/><use href="#m" x="580.3" y="1108.6" fill="#006d8d" stroke="#006d8d"/><use href="#m" x="576.2" y="1096.5" fill="#003db8" stroke="#003db8"/><use href="#m" x="575.9" y="1083.0" fill="#00189f" stroke="#00189f"/><use href="#m" x="575.4" y="1069.3" fill="#00189f" stroke="#00189f"/><use href="#m" x="574.5" y="1055.6" fill="#004dad" stroke="#004dad"/><use href="#m" x="582.6" y="1046.7" fill="#004dad" stroke="#004dad"/><use href="#m" x="595.6" y="1046.7" fill="#001396" stroke="#001396"/><use href="#m" x="608.8" y="1046.7" fill="#0023af" stroke="#0023af"/><use href="#m" x="622.6" y="1046.7" fill="#0029b5" stroke="#0029b5"/><use href="#m" x="636.5" y="1046.7" fill="#001da7" stroke="#001da7"/><use href="#m" x="650.7" y="1046.7" fill="#001da7" stroke="#001da7"/><use href="#m" x="664.9" y="1046.6" fill="#001da7" stroke="#001da7"/><use href="#m" x="679.4" y="1046.6" fill="#0029b5" stroke="#0029b5"/><use href="#m" x="694.0" y="1046.6" fill="#001da7" stroke="#001da7"/><use href="#m" x="708.5" y="1046.6" fill="#001da7" stroke="#001da7"/><use href="#m" x="723.0" y="1046.6" fill="#0029b5" stroke="#0029b5"/><use href="#m" x="737.7" y="1046.6" fill="#002eba" stroke="#002eba"/><use href="#m" x="752.4" y="1046.6" fill="#0023af" stroke="#0023af"/><use href="#m" x="767.1" y="1046.6" fill="#002eba" stroke="#002eba"/><use href="#m" x="782.0" y="1046.6" fill="#002eba" stroke="#002eba"/><use href="#m" x="797.2" y="1046.5" fill="#0035bb" stroke="#0035bb"/><use href="#m" x="812.0" y="1046.5" fill="#003db8" stroke="#003db8"/><use href="#m" x="827.1" y="1046.5" fill="#003db8" stroke="#003db8"/><use href="#m" x="842.1" y="1046.5" fill="#003db8" stroke="#003db8"/><use href="#m" x="857.1" y="1046.5" fill="#0045b5" stroke="#0045b5"/><use href="#m" x="872.3" y="1046.5" fill="#0045b5" stroke="#0045b5"/><use href="#m" x="887.3" y="1046.5" fill="#003db8" stroke="#003db8"/><use href="#m" x="902.5" y="1046.5" fill="#0045b5" stroke="#0045b5"/><use href="#m" x="917.6" y="1046.5" fill="#006595" stroke="#006595"/><use href="#m" x="932.8" y="1046.5" fill="#047383" stroke="#047383"/><use href="#m" x="948.0" y="1046.5" fill="#077a78" stroke="#077a78"/><use href="#m" x="963.3" y="1046.4" fill="#1f8e4d" stroke="#1f8e4d"/><use href="#m" x="978.7" y="1046.4" fill="#006d8d" stroke="#006d8d"/><use href="#m" x="994.1" y="1046.4" fill="#005d9d" stroke="#005d9d"/><use href="#m" x="1009.4" y="1046.4" fill="#005d9d" stroke="#005d9d"/><use href="#m" x="1024.8" y="1046.4" fill="#005d9d" stroke="#005d9d"/><use href="#m" x="1039.9" y="1046.0" fill="#abe519" stroke="#abe519"/><use href="#m" x="1050.8" y="1037.6" fill="#3fcf19" stroke="#3fcf19"/><use href="#m" x="1050.8" y="1022.3" fill="#077a78" stroke="#077a78"/><use href="#m" x="1051.6" y="1007.5" fill="#198959" stroke="#198959"/><use href="#m" x="1052.8" y="992.7" fill="#75dd19" stroke="#75dd19"/><use href="#m" x="1042.9" y="983.9" fill="#35c319" stroke="#35c319"/><use href="#m" x="1028.1" y="983.9" fill="#2da91d" stroke="#2da91d"/><use href="#m" x="1013.4" y="984.0" fill="#2a9936" stroke="#2a9936"/><use href="#m" x="998.6" y="984.0" fill="#269342" stroke="#269342"/><use href="#m" x="983.8" y="984.1" fill="#2ba129" stroke="#2ba129"/><use href="#m" x="969.0" y="984.1" fill="#32bc19" stroke="#32bc19"/><use href="#m" x="954.2" y="984.1" fill="#32bc19" stroke="#32bc19"/><use href="#m" x="939.5" y="984.2" fill="#37c919" stroke="#37c919"/><use href="#m" x="924.7" y="984.2" fill="#35c319" stroke="#35c319"/><use href="#m" x="909.9" y="984.3" fill="#1f8e4d" stroke="#1f8e4d"/><use href="#m" x="895.2" y="984.3" fill="#37c919" stroke="#37c919"/><use href="#m" x="880.4" y="984.4" fill="#37c919" stroke="#37c919"/><use href="#m" x="865.6" y="984.4" fill="#0035bb" stroke="#0035bb"/><use href="#m" x="850.5" y="984.4" fill="#3fcf19" stroke="#3fcf19"/><use href="#m" x="835.5" y="984.5" fill="#2ba129" stroke="#2ba129"/><use href="#m" x="820.4" y="984.5" fill="#59d919" stroke="#59d919"/><use href="#m" x="805.3" y="984.6" fill="#2da91d" stroke="#2da91d"/><use href="#m" x="789.9" y="984.6" fill="#2a9936" stroke="#2a9936"/><use href="#m" x="774.5" y="984.6" fill="#32bc19" stroke="#32bc19"/><use href="#m" x="759.1" y="984.7" fill="#30b61a" stroke="#30b61a"/><use href="#m" x="743.7" y="984.7" fill="#35c319" stroke="#35c319"/><use href="#m" x="728.3" y="984.8" fill="#32bc19" stroke="#32bc19"/><use href="#m" x="712.9" y="984.8" fill="#37c919" stroke="#37c919"/><use href="#m" x="697.5" y="984.9" fill="#2da91d" stroke="#2da91d"/><use href="#m" x="682.1" y="984.9" fill="#2faf1b" stroke="#2faf1b"/><use href="#m" x="666.7" y="984.9" fill="#3fcf19" stroke="#3fcf19"/><use href="#m" x="651.3" y="985.0" fill="#2a9936" stroke="#2a9936"/><use href="#m" x="635.9" y="985.0" fill="#0c7f6e" stroke="#0c7f6e"/><use href="#m" x="620.5" y="985.1" fill="#2faf1b" stroke="#2faf1b"/><use href="#m" x="605.1" y="985.1" fill="#30b61a" stroke="#30b61a"/><use href="#m" x="589.7" y="985.2" fill="#32bc19" stroke="#32bc19"/><use href="#m" x="579.5" y="975.5" fill="#35c319" stroke="#35c319"/><use href="#m" x="579.5" y="961.0" fill="#0c7f6e" stroke="#0c7f6e"/><use href="#m" x="579.5" y="946.4" fill="#047383" stroke="#047383"/><use href="#m" x="579.5" y="931.7" fill="#2ba129" stroke="#2ba129"/><use href="#m" x="590.1" y="923.4" fill="#ffeb15" stroke="#ffeb15"/><use href="#m" x="604.8" y="923.4" fill="#0c7f6e" stroke="#0c7f6e"/><use href="#m" x="619.6" y="923.4" fill="#0c7f6e" stroke="#0c7f6e"/><use href="#m" x="634.4" y="923.4" fill="#005d9d" stroke="#005d9d"/><use href="#m" x="649.2" y="923.3" fill="#005d9d" stroke="#005d9d"/><use href="#m" x="664.0" y="923.3" fill="#006595" stroke="#006595"/><use href="#m" x="678.8" y="923.3" fill="#138463" stroke="#138463"/><use href="#m" x="693.5" y="923.3" fill="#077a78" stroke="#077a78"/><use href="#m" x="708.3" y="923.3" fill="#006d8d" stroke="#006d8d"/><use href="#m" x="723.1" y="923.3" fill="#0035bb" stroke="#0035bb"/><use href="#m" x="737.9" y="923.3" fill="#005d9d" stroke="#005d9d"/><use href="#m" x="752.7" y="921.5" fill="#2faf1b" stroke="#2faf1b"/><use href="#m" x="767.4" y="923.2" fill="#047383" stroke="#047383"/><use href="#m" x="782.2" y="923.2" fill="#0035bb" stroke="#0035bb"/><use href="#m" x="797.0" y="923.2" fill="#077a78" stroke="#077a78"/><use href="#m" x="811.8" y="923.2" fill="#005d9d" stroke="#005d9d"/><use href="#m" x="826.6" y="923.2" fill="#003db8" stroke="#003db8"/><use href="#m" x="841.4" y="923.2" fill="#003db8" stroke="#003db8"/><use href="#m" x="856.1" y="923.2" fill="#005d9d" stroke="#005d9d"/><use href="#m" x="870.9" y="923.2" fill="#005d9d" stroke="#005d9d"/><use href="#m" x="885.7" y="923.1" fill="#077a78" stroke="#077a78"/><use href="#m" x="900.5" y="923.1" fill="#077a78" stroke="#077a78"/><use href="#m" x="915.3" y="923.1" fill="#006d8d" stroke="#006d8d"/><use href="#m" x="930.0" y="923.1" fill="#0055a5" stroke="#0055a5"/><use href="#m" x="944.8" y="923.1" fill="#005d9d" stroke="#005d9d"/><use href="#m" x="959.6" y="923.1" fill="#006595" stroke="#006595"/><use href="#m" x="974.4" y="923.1" fill="#0055a5" stroke="#0055a5"/><use href="#m" x="989.2" y="923.1" fill="#047383" stroke="#047383"/><use href="#m" x="1004.0" y="923.0" fill="#077a78" stroke="#077a78"/><use href="#m" x="1018.7" y="923.0" fill="#0045b5" stroke="#0045b5"/><use href="#m" x="1033.5" y="923.0" fill="#003db8" stroke="#003db8"/><use href="#m" x="1048.3" y="923.0" fill="#2ba129" stroke="#2ba129"/><use href="#m" x="1057.5" y="933.0" fill="#32bc19" stroke="#32bc19"/><use href="#m" x="1057.7" y="947.3" fill="#0035bb" stroke="#0035bb"/><use href="#m" x="1058.0" y="961.3" fill="#002eba" stroke="#002eba"/><use href="#m" x="1058.2" y="975.4" fill="#002eba" stroke="#002eba"/><use href="#m" x="1058.5" y="989.9" fill="#002eba" stroke="#002eba"/><use href="#m" x="1058.9" y="1004.5" fill="#002eba" stroke="#002eba"/><use href="#m" x="1059.2" y="1018.8" fill="#002eba" stroke="#002eba"/><use href="#m" x="1059.7" y="1033.1" fill="#0031bd" stroke="#0031bd"/><use href="#m" x="1059.9" y="1047.8" fill="#0031bd" stroke="#0031bd"/><use href="#m" x="1060.2" y="1062.2" fill="#0031bd" stroke="#0031bd"/><use href="#m" x="1060.5" y="1077.0" fill="#0031bd" stroke="#0031bd"/><use href="#m" x="1060.8" y="1091.8" fill="#0031bd" stroke="#0031bd"/><use href="#m" x="1061.1" y="1106.6" fill="#0031bd" stroke="#0031bd"/><use href="#m" x="1061.6" y="1121.4" fill="#002eba" stroke="#002eba"/><use href="#m" x="1062.3" y="1136.6" fill="#002eba" stroke="#002eba"/><use href="#m" x="1062.8" y="1151.4" fill="#002eba" stroke="#002eba"/><use href="#m" x="1063.4" y="1166.2" fill="#002bb7" stroke="#002bb7"/><use href="#m" x="1063.8" y="1181.0" fill="#0029b5" stroke="#0029b5"/><use href="#m" x="1064.1" y="1196.0" fill="#0026b2" stroke="#0026b2"/><use href="#m" x="1064.6" y="1211.1" fill="#0026b2" stroke="#0026b2"/><use href="#m" x="1065.1" y="1226.4" fill="#0023af" stroke="#0023af"/><use href="#m" x="1065.6" y="1241.1" fill="#0023af" stroke="#0023af"/><use href="#m" x="1066.1" y="1256.1" fill="#0023af" stroke="#0023af"/><use href="#m" x="1066.6" y="1271.2" fill="#0020ab" stroke="#0020ab"/><use href="#m" x="1066.8" y="1286.5" fill="#0020ab" stroke="#0020ab"/><use href="#m" x="1067.1" y="1301.5" fill="#0020ab" stroke="#0020ab"/><use href="#m" x="1067.6" y="1316.8" fill="#0020ab" stroke="#0020ab"/><use href="#m" x="1067.4" y="1331.7" fill="#0023af" stroke="#0023af"/><use href="#m" x="1065.4" y="1346.5" fill="#0023af" stroke="#0023af"/><use href="#m" x="1061.7" y="1360.9" fill="#0026b2" stroke="#0026b2"/><use href="#m" x="1058.4" y="1375.5" fill="#0029b5" stroke="#0029b5"/><use href="#m" x="1054.1" y="1389.6" fill="#0029b5" stroke="#0029b5"/><use href="#m" x="1049.8" y="1403.8" fill="#0f8269" stroke="#0f8269"/><use href="#m" x="1039.3" y="1413.9" fill="#001da7" stroke="#001da7"/><use href="#m" x="1029.4" y="1423.8" fill="#006595" stroke="#006595"/><use href="#m" x="1031.5" y="1437.3" fill="#002eba" stroke="#002eba"/><use href="#m" x="1037.4" y="1450.9" fill="#0045b5" stroke="#0045b5"/><use href="#m" x="1046.9" y="1459.3" fill="#001da7" stroke="#001da7"/><use href="#m" x="1056.6" y="1468.5" fill="#00189f" stroke="#00189f"/><use href="#m" x="1067.9" y="1480.2" fill="#001da7" stroke="#001da7"/><use href="#m" x="1077.7" y="1490.3" fill="#0023af" stroke="#0023af"/><use href="#m" x="1089.6" y="1497.5" fill="#0055a5" stroke="#0055a5"/><use href="#m" x="1097.2" y="1487.0" fill="#003db8" stroke="#003db8"/><use href="#m" x="1093.3" y="1472.8" fill="#003db8" stroke="#003db8"/><use href="#m" x="1083.0" y="1464.8" fill="#006595" stroke="#006595"/><use href="#m" x="1068.3" y="1467.3" fill="#001da7" stroke="#001da7"/><use href="#m" x="1053.4" y="1469.3" fill="#0020ab" stroke="#0020ab"/><use href="#m" x="1038.2" y="1469.7" fill="#0020ab" stroke="#0020ab"/><use href="#m" x="1022.9" y="1470.0" fill="#0020ab" stroke="#0020ab"/><use href="#m" x="1007.7" y="1470.4" fill="#0020ab" stroke="#0020ab"/><use href="#m" x="992.5" y="1470.8" fill="#0020ab" stroke="#0020ab"/><use href="#m" x="977.3" y="1471.3" fill="#0020ab" stroke="#0020ab"/><use href="#m" x="962.0" y="1471.8" fill="#0020ab" stroke="#0020ab"/><use href="#m" x="946.8" y="1472.4" fill="#0020ab" stroke="#0020ab"/><use href="#m" x="931.6" y="1472.9" fill="#0020ab" stroke="#0020ab"/><use href="#m" x="916.4" y="1473.4" fill="#0020ab" stroke="#0020ab"/><use href="#m" x="901.2" y="1473.9" fill="#0020ab" stroke="#0020ab"/><use href="#m" x="885.9" y="1474.4" fill="#0020ab" stroke="#0020ab"/><use href="#m" x="870.7" y="1474.9" fill="#0020ab" stroke="#0020ab"/><use href="#m" x="855.5" y="1475.4" fill="#0020ab" stroke="#0020ab"/><use href="#m" x="840.3" y="1475.9" fill="#0020ab" stroke="#0020ab"/><use href="#m" x="825.0" y="1476.4" fill="#0020ab" stroke="#0020ab"/><use href="#m" x="809.8" y="1476.9" fill="#0020ab" stroke="#0020ab"/><use href="#m" x="794.6" y="1477.4" fill="#0020ab" stroke="#0020ab"/><use href="#m" x="779.4" y="1477.9" fill="#0020ab" stroke="#0020ab"/><use href="#m" x="764.2" y="1478.4" fill="#0020ab" stroke="#0020ab"/><use href="#m" x="748.9" y="1479.0" fill="#0020ab" stroke="#0020ab"/><use href="#m" x="733.7" y="1479.6" fill="#0020ab" stroke="#0020ab"/><use href="#m" x="718.5" y="1480.2" fill="#0020ab" stroke="#0020ab"/><use href="#m" x="703.3" y="1480.7" fill="#0020ab" stroke="#0020ab"/><use href="#m" x="688.0" y="1481.3" fill="#0020ab" stroke="#0020ab"/><use href="#m" x="672.8" y="1481.9" fill="#0020ab" stroke="#0020ab"/><use href="#m" x="657.6" y="1482.5" fill="#0020ab" stroke="#0020ab"/><use href="#m" x="642.4" y="1483.2" fill="#0020ab" stroke="#0020ab"/><use href="#m" x="627.2" y="1483.8" fill="#0020ab" stroke="#0020ab"/><use href="#m" x="611.9" y="1484.4" fill="#0020ab" stroke="#0020ab"/><use href="#m" x="596.7" y="1485.0" fill="#0020ab" stroke="#0020ab"/><use href="#m" x="581.5" y="1485.7" fill="#0020ab" stroke="#0020ab"/><use href="#m" x="566.3" y="1486.3" fill="#0020ab" stroke="#0020ab"/><use href="#m" x="551.1" y="1487.0" fill="#0020ab" stroke="#0020ab"/><use href="#m" x="535.8" y="1487.6" fill="#0020ab" stroke="#0020ab"/><use href="#m" x="520.6" y="1488.3" fill="#0020ab" stroke="#0020ab"/><use href="#m" x="505.4" y="1489.0" fill="#0020ab" stroke="#0020ab"/><use href="#m" x="490.2" y="1489.7" fill="#0020ab" stroke="#0020ab"/><use href="#m" x="474.9" y="1490.4" fill="#0020ab" stroke="#0020ab"/><use href="#m" x="459.7" y="1491.1" fill="#0020ab" stroke="#0020ab"/><use href="#m" x="444.5" y="1491.7" fill="#0020ab" stroke="#0020ab"/><use href="#m" x="429.3" y="1492.2" fill="#0020ab" stroke="#0020ab"/><use href="#m" x="414.1" y="1492.8" fill="#0020ab" stroke="#0020ab"/><use href="#m" x="398.8" y="1493.3" fill="#0020ab" stroke="#0020ab"/><use href="#m" x="383.6" y="1493.9" fill="#0020ab" stroke="#0020ab"/><use href="#m" x="368.4" y="1494.6" fill="#0020ab" stroke="#0020ab"/><use href="#m" x="353.2" y="1495.3" fill="#0020ab" stroke="#0020ab"/><use href="#m" x="337.9" y="1496.1" fill="#0020ab" stroke="#0020ab"/><use href="#m" x="322.7" y="1496.8" fill="#0020ab" stroke="#0020ab"/><use href="#m" x="307.5" y="1497.5" fill="#0020ab" stroke="#0020ab"/><use href="#m" x="253.9" y="1499.6" fill="#0020ab" stroke="#0020ab"/><use href="#m" x="238.8" y="1500.4" fill="#0020ab" stroke="#0020ab"/><use href="#m" x="223.6" y="1501.0" fill="#0020ab" stroke="#0020ab"/><use href="#m" x="208.4" y="1501.7" fill="#0020ab" stroke="#0020ab"/><use href="#m" x="193.3" y="1502.3" fill="#0020ab" stroke="#0020ab"/><use href="#m" x="178.2" y="1503.1" fill="#0020ab" stroke="#0020ab"/><use href="#m" x="163.0" y="1504.1" fill="#0020ab" stroke="#0020ab"/></g><rect x="104" y="862" width="1112" height="740.9" fill="none" stroke="#000" stroke-width="2.22" stroke-linejoin="miter"/><text x="598.2" y="841.9" text-anchor="middle">52.5°W</text><text x="89.6" y="1116.6" text-anchor="end">15°N</text>
<rect x="1319" y="154.0" width="55.1" height="555.8" fill="url(#gf)"/><rect x="1319" y="154.0" width="55.1" height="555.8" fill="none" stroke="#000" stroke-width="2.22"/><g stroke="#000" stroke-width="2.22"><path d="M1374.1 709.80h9.9"/><path d="M1374.1 640.32h9.9"/><path d="M1374.1 570.85h9.9"/><path d="M1374.1 501.38h9.9"/><path d="M1374.1 431.90h9.9"/><path d="M1374.1 362.42h9.9"/><path d="M1374.1 292.95h9.9"/><path d="M1374.1 223.48h9.9"/><path d="M1374.1 154.00h9.9"/></g><text x="1394.9" y="721.40">0.0200</text><text x="1394.9" y="651.92">0.0225</text><text x="1394.9" y="582.45">0.0250</text><text x="1394.9" y="512.98">0.0275</text><text x="1394.9" y="443.50">0.0300</text><text x="1394.9" y="374.02">0.0325</text><text x="1394.9" y="304.55">0.0350</text><text x="1394.9" y="235.08">0.0375</text><text x="1394.9" y="165.60">0.0400</text><text transform="translate(1527.5 432.8) rotate(-90)" text-anchor="middle" style="letter-spacing:0.12px">Mean Square Slope (rad<tspan dy="-10.5" font-size="19.45px">2</tspan><tspan dy="10.5">)</tspan></text>
<rect x="1319" y="954.0" width="55.1" height="555.8" fill="url(#gb)"/><rect x="1319" y="954.0" width="55.1" height="555.8" fill="none" stroke="#000" stroke-width="2.22"/><g stroke="#000" stroke-width="2.22"><path d="M1374.1 1509.80h9.9"/><path d="M1374.1 1440.33h9.9"/><path d="M1374.1 1370.85h9.9"/><path d="M1374.1 1301.38h9.9"/><path d="M1374.1 1231.90h9.9"/><path d="M1374.1 1162.42h9.9"/><path d="M1374.1 1092.95h9.9"/><path d="M1374.1 1023.48h9.9"/><path d="M1374.1 954.00h9.9"/></g><text x="1393.9" y="1521.40">1.0</text><text x="1393.9" y="1451.92">1.5</text><text x="1393.9" y="1382.45">2.0</text><text x="1393.9" y="1312.97">2.5</text><text x="1393.9" y="1243.50">3.0</text><text x="1393.9" y="1174.02">3.5</text><text x="1393.9" y="1104.55">4.0</text><text x="1393.9" y="1035.08">4.5</text><text x="1393.9" y="965.60">5.0</text><text transform="translate(1469.5 1233) rotate(-90)" text-anchor="middle" style="letter-spacing:-0.025px">Significant Wave Height (m)</text>
</svg></body></html>
